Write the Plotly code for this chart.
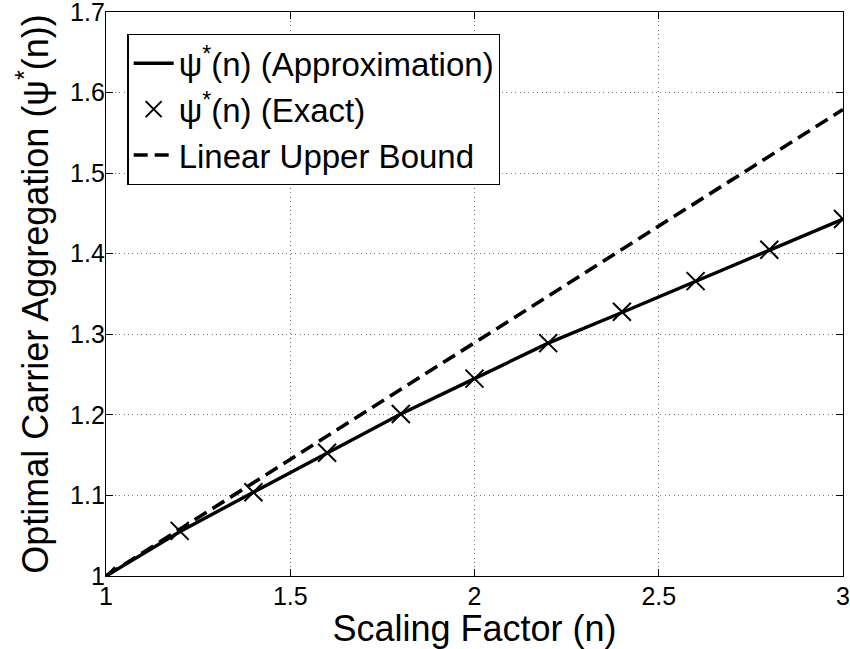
import plotly.graph_objects as go

n_values = [1.0, 1.2, 1.4, 1.6, 1.8, 2.0, 2.2, 2.4, 2.6, 2.8, 3.0]
psi_approx = [1.0, 1.055, 1.104, 1.153, 1.201, 1.245, 1.289, 1.327, 1.366, 1.405, 1.443]
psi_exact = [1.0, 1.056, 1.104, 1.153, 1.201, 1.245, 1.289, 1.328, 1.366, 1.405, 1.443]
bound_n = [1.0, 3.0]
bound_psi = [1.0, 1.579]

x_ticks = [1, 1.5, 2, 2.5, 3]
x_tick_labels = ["1", "1.5", "2", "2.5", "3"]
y_ticks = [1, 1.1, 1.2, 1.3, 1.4, 1.5, 1.6, 1.7]
y_tick_labels = ["1", "1.1", "1.2", "1.3", "1.4", "1.5", "1.6", "1.7"]

FONT = "Liberation Sans, Arial, Helvetica, sans-serif"

fig = go.Figure()
fig.add_trace(go.Scatter(x=n_values, y=psi_approx, mode="lines",
                         line=dict(color="black", width=3.4),
                         name="ψ<sup>*</sup>(n) (Approximation)"))
fig.add_trace(go.Scatter(x=n_values, y=psi_exact, mode="markers",
                         marker=dict(symbol="x-thin-open", size=18, color="black",
                                     line=dict(color="black", width=2)),
                         name="ψ<sup>*</sup>(n) (Exact)"))
fig.add_trace(go.Scatter(x=bound_n, y=bound_psi, mode="lines",
                         line=dict(color="black", width=3.6, dash="14px,7px"),
                         name="Linear Upper Bound"))

axis_common = dict(showline=True, linecolor="black", linewidth=1.3, mirror="ticks",
                   ticks="inside", ticklen=7, tickcolor="black", tickwidth=1.2,
                   showgrid=True, gridcolor="#7a7a7a", griddash="1px,3.4px", gridwidth=1,
                   zeroline=False, automargin=False, ticklabeloverflow="allow",
                   tickfont=dict(family=FONT, size=25, color="black"))

fig.update_xaxes(range=[1, 3], tickvals=x_ticks, ticktext=x_tick_labels,
                 ticklabelstandoff=-2,
                 title=dict(text="Scaling Factor (n)", font=dict(family=FONT, size=36, color="black"),
                            standoff=0),
                 **axis_common)
fig.update_yaxes(range=[1, 1.7], tickvals=y_ticks, ticktext=y_tick_labels,
                 ticklabelstandoff=-5,
                 title=dict(text="Optimal Carrier Aggregation (ψ<sup>*</sup>(n))",
                            font=dict(family=FONT, size=36, color="black"), standoff=10),
                 **axis_common)

fig.update_layout(
    width=850, height=649,
    margin=dict(l=106, r=7, t=12, b=73),
    paper_bgcolor="white", plot_bgcolor="white",
    font=dict(family=FONT, color="black"),
    legend=dict(x=0.029, y=0.961, xanchor="left", yanchor="top",
                bgcolor="white", bordercolor="black", borderwidth=1.3,
                font=dict(family=FONT, size=33, color="black"),
                itemwidth=40, tracegroupgap=0),
    showlegend=True,
)

fig.write_html("out.html", config={"displayModeBar": False},
               post_script="document.body.style.margin='0';document.body.style.overflow='hidden';")
